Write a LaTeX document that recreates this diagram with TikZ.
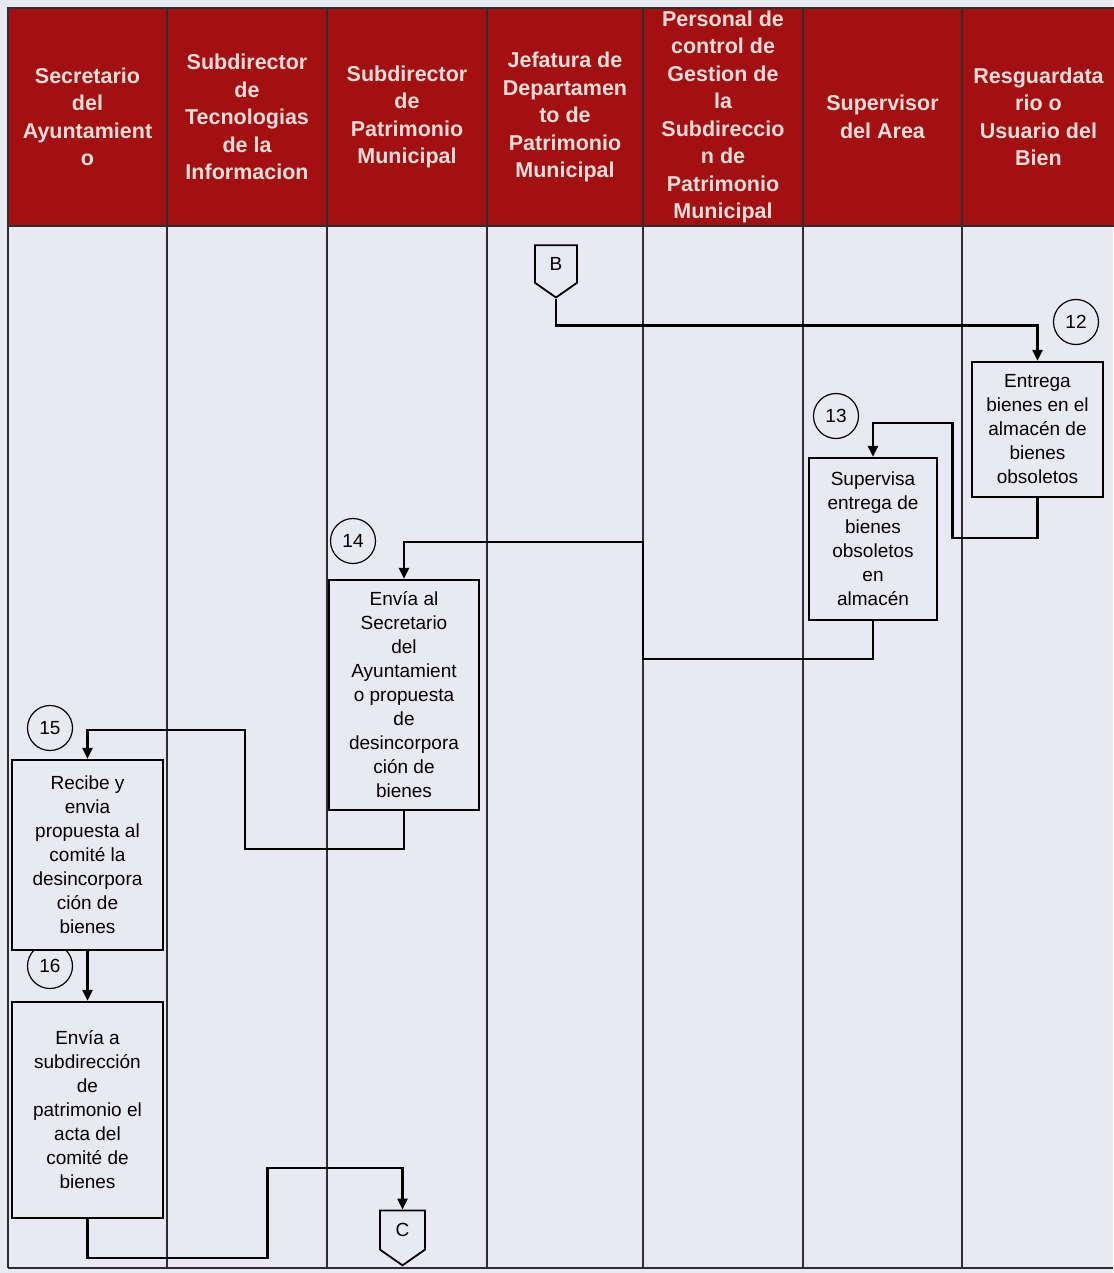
\documentclass[tikz,border=0pt]{standalone}
\usepackage{fontspec}
\setmainfont{Liberation Sans}
\usetikzlibrary{arrows.meta,shapes.symbols}
\definecolor{cabecera}{RGB}{163,16,18}
\definecolor{letracab}{RGB}{244,220,216}
\definecolor{fondo}{RGB}{233,234,241}
\definecolor{linea}{RGB}{45,45,50}

\begin{document}
\begin{tikzpicture}[x=1pt, y=-1pt, >={Triangle[width=10pt,length=11pt]},
	titulo/.style={fill=cabecera, draw=linea, line width=1.2pt, text=letracab, align=center, inner sep=0pt,
		minimum height=218pt, font=\bfseries\fontsize{21.5}{27.5}\selectfont},
	actividad/.style={draw=black, line width=2.3pt, fill=fondo, align=center, inner sep=0pt,
		font=\fontsize{19}{24}\selectfont},
	paso/.style={circle, draw=black, line width=1.2pt, minimum size=45pt, inner sep=0pt,
		font=\fontsize{19}{22}\selectfont},
	conector/.style={signal, signal to=south, signal pointer angle=110, draw=black, line width=1.8pt,
		fill=fondo, inner sep=0pt, font=\fontsize{19}{22}\selectfont},
	flujo/.style={->, line width=2.4pt}]
	\useasboundingbox[fill=fondo] (0,0) rectangle (1113,1273);

	\foreach \x in {8,167,327,487,643,803,962}
		\draw[linea, line width=1.2pt] (\x,226) -- (\x,1268);
	\draw[linea, line width=1.8pt] (8,1268) -- (1113,1268);

	\node[titulo, minimum width=159pt] (H1) at (87.5,117) {Secretario\\del\\Ayuntamient\\o};
	\node[titulo, minimum width=160pt] (H2) at (247,117) {Subdirector\\de\\Tecnologias\\de la\\Informacion};
	\node[titulo, minimum width=160pt] (H3) at (407,117) {Subdirector\\de\\Patrimonio\\Municipal};
	\node[titulo, minimum width=156pt] (H4) at (565,117) {Jefatura de\\Departamen\\to de\\Patrimonio\\Municipal};
	\node[titulo, minimum width=160pt] (H5) at (723,117) {Personal de\\control de\\Gestion de\\la\\Subdireccio\\n de\\Patrimonio\\Municipal};
	\node[titulo, minimum width=159pt] (H6) at (882.5,117) {Supervisor\\del Area};
	\node[titulo, minimum width=153pt] (H7) at (1038.5,117) {Resguardata\\rio o\\Usuario del\\Bien};

	\node[conector, minimum width=42pt, minimum height=42pt] (B) at (556,264) {B};
	\node[conector, minimum width=45pt, minimum height=44pt] (C) at (402.5,1230) {C};

	\node[paso] (P12) at (1076,322) {12};
	\node[paso] (P13) at (836,416) {13};
	\node[paso] (P14) at (353,541) {14};
	\node[paso] (P15) at (50,728) {15};
	\node[paso] (P16) at (50,966) {16};

	\node[actividad, minimum width=131pt, minimum height=135pt] (A12) at (1037.5,429.5) {Entrega\\bienes en el\\almacén de\\bienes\\obsoletos};
	\node[actividad, minimum width=128pt, minimum height=162pt] (A13) at (873,539) {Supervisa\\entrega de\\bienes\\obsoletos\\en\\almacén};
	\node[actividad, minimum width=150pt, minimum height=230pt] (A14) at (404,695) {Envía al\\Secretario\\del\\Ayuntamient\\o propuesta\\de\\desincorpora\\ción de\\bienes};
	\node[actividad, minimum width=151pt, minimum height=190pt] (A15) at (87.5,855) {Recibe y\\envia\\propuesta al\\comité la\\desincorpora\\ción de\\bienes};
	\node[actividad, minimum width=151pt, minimum height=216pt] (A16) at (87.5,1110) {Envía a\\subdirección\\de\\patrimonio el\\acta del\\comité de\\bienes};

	\draw[flujo] (B.south) -- ++(0,27) -| (A12.north);
	\draw[flujo] (A12.south) -- ++(0,40) -| ++(-85,-115) -| (A13.north);
	\draw[flujo] (A13.south) -- ++(0,38) -| ++(-230,-117) -| (A14.north);
	\draw[flujo] (A14.south) -- ++(0,38) -| ++(-159,-119) -| (A15.north);
	\draw[flujo] (A15.south) -- (A16.north);
	\draw[flujo] (A16.south) -- ++(0,39) -| ++(180,-90) -| (C.north);
\end{tikzpicture}
\end{document}
